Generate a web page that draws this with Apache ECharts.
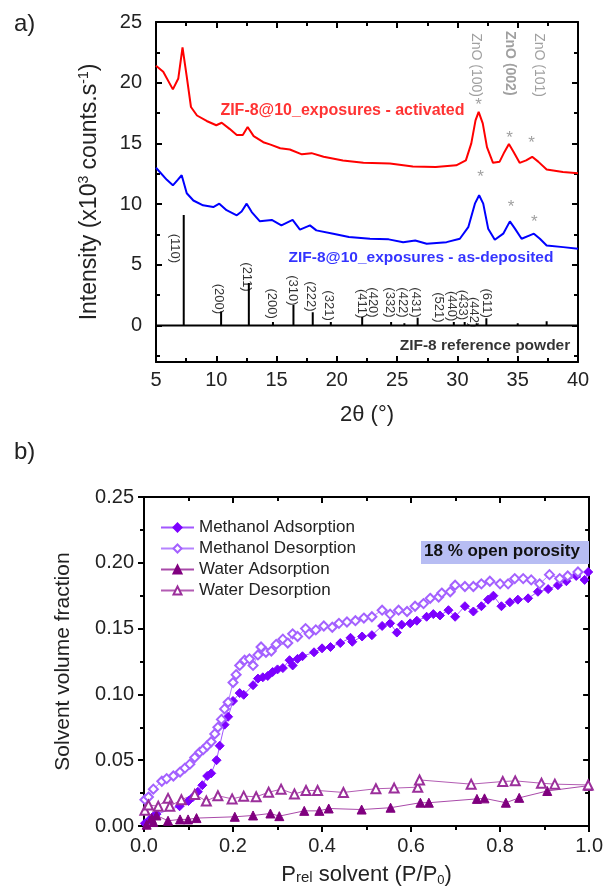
<!DOCTYPE html>
<html>
<head>
<meta charset="utf-8">
<script src="https://cdn.jsdelivr.net/npm/echarts@6/dist/echarts.min.js"></script>
<style>
  html, body { margin: 0; padding: 0; background: #fff; }
  #chart { width: 606px; height: 890px; }
</style>
</head>
<body>
<div id="chart"></div>
<script>
// ---- panel a: XRD patterns (2theta in deg, intensity in 10^3 counts/s)
const activatedXRD = [[5.0,21.4],[5.6,20.9],[6.4,19.45],[6.85,20.35],[7.2,22.9],[7.55,20.5],[7.9,18.0],[8.4,17.3],[9.2,16.85],[10.0,16.5],[10.45,16.7],[11.1,16.2],[11.7,15.7],[12.2,15.7],[12.6,16.35],[13.1,15.6],[13.9,15.1],[14.5,14.9],[15.3,14.6],[16.1,14.5],[17.1,14.1],[17.9,14.2],[18.9,13.9],[20.5,13.6],[22.2,13.4],[24.4,13.35],[26.3,13.1],[28.2,13.05],[29.9,13.2],[30.7,13.6],[31.15,15.0],[31.5,16.9],[31.76,17.6],[32.1,16.65],[32.45,14.7],[32.95,13.4],[33.5,13.5],[33.9,14.3],[34.27,14.95],[34.66,14.3],[35.16,13.4],[35.7,13.6],[36.2,13.9],[36.7,13.5],[37.4,12.85],[38.75,12.65],[40,12.55]];
const asDepositedXRD = [[5.0,13.0],[5.9,12.0],[6.4,11.55],[6.8,12.0],[7.13,12.38],[7.55,10.9],[8.1,10.3],[8.9,9.9],[9.75,9.76],[10.25,10.04],[10.85,9.5],[11.7,9.08],[12.1,9.4],[12.52,10.04],[12.94,9.35],[13.6,8.6],[14.6,8.7],[15.4,8.25],[16.33,8.7],[16.94,7.9],[17.77,8.25],[18.3,7.84],[19.7,7.57],[21.0,7.3],[22.75,7.15],[24.3,7.1],[25.5,6.87],[26.5,7.0],[27.45,6.74],[29.1,6.87],[30.2,7.15],[30.9,8.1],[31.45,10.04],[31.8,10.73],[32.14,10.04],[32.55,7.98],[33.1,7.07],[33.8,7.57],[34.35,8.58],[34.77,7.98],[35.32,7.15],[36.0,7.43],[36.34,7.57],[36.84,7.15],[37.4,6.6],[38.77,6.46],[40,6.33]];

// reference powder sticks
const refTheta     = [7.3, 10.4, 12.7, 14.7, 16.4, 18.0, 19.5, 22.1, 23.0, 24.5, 25.6, 26.7, 28.5, 29.7, 30.6, 31.6, 32.4, 34.2, 35.0, 36.4, 37.4, 39.1];
const refIntensity = [9.1, 1.15, 3.5, 0.3, 1.7, 1.1, 0.3, 0.7, 0.1, 0.3, 0.2, 0.65, 0.1, 0.3, 0.3, 0.2, 0.6, 0.15, 0.2, 0.15, 0.35, 0.15];

// hkl annotations
const hklText = ['(110)','(200)','(211)','(200)','(310)','(222)','(321)','(411)','(420)','(332)','(422)','(431)','(521)','(440)','(433)','(442)','(611)'];
const hklX    = [6.5, 10.2, 12.55, 14.55, 16.3, 17.8, 19.3, 22.05, 23.0, 24.35, 25.45, 26.55, 28.4, 29.5, 30.45, 31.35, 32.4];
const hklY    = [6.35, 2.2, 4.0, 1.8, 2.9, 2.4, 1.65, 1.8, 1.9, 1.9, 1.9, 1.9, 1.5, 1.6, 1.7, 1.1, 1.85];

// ZnO annotations
const znoText = ['ZnO (100)', 'ZnO (002)', 'ZnO (101)'];
const znoX    = [31.56, 34.38, 36.73];
const znoY    = [21.45, 21.6, 21.45];
const starX   = [31.76, 34.33, 36.15, 31.92, 34.44, 36.37];
const starY   = [18.1, 15.45, 15.05, 12.25, 9.75, 8.5];

// ---- panel b: sorption isotherms (P/P0, volume fraction)
const methanolAds = [[0.002,0.002],[0.013,0.005],[0.02,0.007],[0.028,0.009],[0.08,0.015],[0.1,0.019],[0.11,0.022],[0.121,0.026],[0.131,0.031],[0.142,0.038],[0.151,0.04],[0.163,0.05],[0.17,0.061],[0.181,0.077],[0.189,0.083],[0.2,0.095],[0.215,0.101],[0.224,0.0997],[0.245,0.107],[0.256,0.112],[0.267,0.113],[0.278,0.114],[0.289,0.117],[0.3,0.119],[0.312,0.12],[0.327,0.126],[0.334,0.122],[0.345,0.127],[0.356,0.129],[0.382,0.132],[0.4,0.135],[0.419,0.136],[0.441,0.139],[0.464,0.143],[0.468,0.14],[0.49,0.144],[0.512,0.145],[0.535,0.152],[0.553,0.154],[0.568,0.147],[0.579,0.153],[0.598,0.154],[0.613,0.156],[0.635,0.159],[0.65,0.161],[0.665,0.16],[0.684,0.164],[0.699,0.159],[0.721,0.167],[0.74,0.163],[0.758,0.167],[0.773,0.172],[0.785,0.175],[0.803,0.167],[0.822,0.17],[0.84,0.172],[0.863,0.173],[0.885,0.178],[0.908,0.18],[0.93,0.183],[0.949,0.186],[0.971,0.19],[0.99,0.187],[0.998,0.193]];
const methanolDes = [[0.002,0.02],[0.01,0.022],[0.021,0.028],[0.04,0.034],[0.051,0.036],[0.066,0.038],[0.081,0.041],[0.092,0.044],[0.103,0.047],[0.114,0.052],[0.125,0.056],[0.133,0.058],[0.142,0.061],[0.151,0.064],[0.159,0.07],[0.166,0.075],[0.174,0.081],[0.181,0.089],[0.189,0.094],[0.2,0.109],[0.207,0.115],[0.215,0.122],[0.226,0.126],[0.237,0.127],[0.245,0.122],[0.256,0.13],[0.263,0.136],[0.274,0.132],[0.286,0.133],[0.297,0.138],[0.312,0.142],[0.323,0.139],[0.334,0.146],[0.345,0.144],[0.363,0.15],[0.371,0.146],[0.386,0.149],[0.404,0.152],[0.423,0.151],[0.438,0.154],[0.456,0.155],[0.475,0.156],[0.494,0.158],[0.512,0.159],[0.535,0.164],[0.553,0.161],[0.572,0.164],[0.591,0.163],[0.609,0.167],[0.628,0.169],[0.643,0.173],[0.662,0.174],[0.669,0.177],[0.688,0.178],[0.699,0.183],[0.721,0.182],[0.74,0.182],[0.758,0.184],[0.777,0.186],[0.8,0.184],[0.818,0.184],[0.833,0.188],[0.852,0.188],[0.87,0.187],[0.889,0.184],[0.911,0.191],[0.934,0.188],[0.952,0.19],[0.975,0.193]];
const waterAds = [[0.006,0.001],[0.017,0.006],[0.021,0.003],[0.028,0.008],[0.054,0.004],[0.081,0.005],[0.099,0.005],[0.118,0.006],[0.204,0.007],[0.245,0.008],[0.284,0.0095],[0.304,0.0075],[0.36,0.0115],[0.394,0.0115],[0.415,0.0133],[0.489,0.0125],[0.554,0.0139],[0.621,0.0177],[0.64,0.0177],[0.748,0.0206],[0.765,0.021],[0.813,0.0177],[0.843,0.0214],[0.906,0.0266],[0.998,0.0306]];
const waterDes = [[0.002,0.012],[0.01,0.016],[0.032,0.015],[0.054,0.021],[0.058,0.015],[0.084,0.02],[0.114,0.024],[0.14,0.019],[0.166,0.023],[0.198,0.0206],[0.224,0.0227],[0.252,0.0222],[0.28,0.0256],[0.308,0.028],[0.338,0.0243],[0.364,0.027],[0.39,0.027],[0.448,0.0255],[0.521,0.0283],[0.562,0.0288],[0.615,0.0295],[0.619,0.035],[0.735,0.0318],[0.806,0.0338],[0.834,0.0343],[0.893,0.0325],[0.923,0.0318],[0.998,0.0312]];

const FONT = 'Liberation Sans, Arial, sans-serif';

// stick pattern: baseline with one spike per reference reflection
function stickPath() {
  const pts = [[5, 0]];
  refTheta.forEach((t, i) => {
    pts.push([t, 0], [t, refIntensity[i]], [t, 0]);
  });
  pts.push([40, 0]);
  return pts;
}

function textSeries(items) {
  return {
    type: 'scatter',
    xAxisIndex: 0,
    yAxisIndex: 0,
    symbolSize: 1,
    silent: true,
    itemStyle: { color: 'rgba(0,0,0,0)' },
    z: 10,
    data: items
  };
}

const hklItems = hklText.map((t, i) => ({
  value: [hklX[i], hklY[i]],
  label: { show: true, formatter: t, position: 'inside', rotate: -90, align: 'center', verticalAlign: 'middle',
           color: '#000', fontSize: 13, fontFamily: FONT }
}));
const znoItems = znoText.map((t, i) => ({
  value: [znoX[i], znoY[i]],
  label: { show: true, formatter: t, position: 'inside', rotate: -90, align: 'center', verticalAlign: 'middle',
           color: '#888', fontSize: 14, fontFamily: FONT, fontWeight: i === 1 ? 'bold' : 'normal' }
}));
const starItems = starX.map((x, i) => ({
  value: [x, starY[i]],
  label: { show: true, formatter: '*', position: 'inside', color: '#888', fontSize: 17, fontFamily: FONT }
}));
const curveLabels = [
  { value: [10.3, 17.7], label: { show: true, formatter: 'ZIF-8@10_exposures - activated', position: 'right', distance: 0,
      color: '#ff0000', fontSize: 16, fontWeight: 'bold', fontFamily: FONT } },
  { value: [15.95, 5.6], label: { show: true, formatter: 'ZIF-8@10_exposures - as-deposited', position: 'right', distance: 0,
      color: '#0000ff', fontSize: 15.5, fontWeight: 'bold', fontFamily: FONT } },
  { value: [39.4, -1.65], label: { show: true, formatter: 'ZIF-8 reference powder', position: 'left', distance: 0,
      color: '#000', fontSize: 15.5, fontWeight: 'bold', fontFamily: FONT } }
];

const axisLineA = { onZero: false, lineStyle: { color: '#000', width: 2 } };
const labelStyle = { color: '#222', fontSize: 20, fontFamily: FONT };

const chart = echarts.init(document.getElementById('chart'));
chart.setOption({
  animation: false,
  backgroundColor: '#fff',
  textStyle: { fontFamily: FONT },
  graphic: [
    { type: 'text', left: 14, top: 12, style: { text: 'a)', fontSize: 24, fontFamily: FONT, fill: '#222' } },
    { type: 'text', left: 14, top: 440, style: { text: 'b)', fontSize: 24, fontFamily: FONT, fill: '#222' } },
    { type: 'rect', shape: { x: 421, y: 541, width: 168, height: 23 }, style: { fill: '#b7bdf3' }, z: 5 },
    { type: 'text', left: 424, top: 543, z: 6,
      style: { text: '18 % open porosity', fontSize: 17, fontWeight: 'bold', fontFamily: FONT, fill: '#111' } }
  ],
  grid: [
    { left: 156, right: 28, top: 22, height: 340 },
    { left: 144, right: 15, top: 497, height: 329 }
  ],
  legend: {
    left: 155, top: 514, orient: 'vertical', itemWidth: 33, itemHeight: 10, itemGap: 4,
    textStyle: { fontSize: 17, color: '#222', fontFamily: FONT },
    data: ['Methanol Adsorption', 'Methanol Desorption', 'Water Adsorption', 'Water Desorption']
  },
  xAxis: [
    { gridIndex: 0, type: 'value', min: 5, max: 40, interval: 5, position: 'bottom',
      axisLine: axisLineA, axisTick: { inside: true, length: 6, lineStyle: { width: 2 } },
      minorTick: { show: true, splitNumber: 2, length: 4, lineStyle: { color: '#000', width: 2 } },
      splitLine: { show: false }, axisLabel: { ...labelStyle, margin: 8 },
      name: '2θ (°)', nameLocation: 'middle', nameGap: 42,
      nameTextStyle: { fontSize: 22, color: '#222', fontFamily: FONT } },
    { gridIndex: 0, type: 'value', min: 5, max: 40, interval: 5, position: 'top',
      axisLine: axisLineA, axisTick: { inside: true, length: 6, lineStyle: { width: 2 } },
      minorTick: { show: true, splitNumber: 2, length: 4, lineStyle: { color: '#000', width: 2 } },
      splitLine: { show: false }, axisLabel: { show: false } },
    { gridIndex: 1, type: 'value', min: 0, max: 1, interval: 0.2, position: 'bottom',
      axisLine: axisLineA, axisTick: { inside: false, length: 6, lineStyle: { width: 2 } },
      minorTick: { show: true, splitNumber: 2, length: 4, lineStyle: { color: '#000', width: 2 } },
      splitLine: { show: false }, axisLabel: { ...labelStyle, margin: 10, formatter: v => v.toFixed(1) },
      name: '{p|P}{s|rel} solvent (P/P{sub|0})', nameLocation: 'middle', nameGap: 36,
      nameTextStyle: { fontSize: 22, color: '#222', fontFamily: FONT,
        rich: { p: { fontSize: 22, fontFamily: FONT, color: '#222' },
                s: { fontSize: 15, fontFamily: FONT, color: '#222', padding: [6, 0, 0, 0] },
                sub: { fontSize: 13, fontFamily: FONT, color: '#222', padding: [12, 0, 0, 0] } } } },
    { gridIndex: 1, type: 'value', min: 0, max: 1, interval: 0.2, position: 'top',
      axisLine: axisLineA, axisTick: { inside: true, length: 6, lineStyle: { width: 2 } },
      minorTick: { show: true, splitNumber: 2, length: 4, lineStyle: { color: '#000', width: 2 } },
      splitLine: { show: false }, axisLabel: { show: false } }
  ],
  yAxis: [
    { gridIndex: 0, type: 'value', min: -3, max: 25, position: 'left',
      axisLine: axisLineA,
      axisTick: { inside: true, length: 6, lineStyle: { width: 2 }, customValues: [0, 5, 10, 15, 20, 25] },
      axisLabel: { ...labelStyle, margin: 14, customValues: [0, 5, 10, 15, 20, 25] },
      splitLine: { show: false },
      name: 'Intensity (x10{sup|3} counts.s{sup|-1})', nameLocation: 'middle', nameGap: 53,
      nameTextStyle: { fontSize: 23, color: '#222', fontFamily: FONT,
        rich: { sup: { fontSize: 14, fontFamily: FONT, color: '#222', padding: [0, 0, 12, 0] } } } },
    { gridIndex: 0, type: 'value', min: -3, max: 25, position: 'left',
      axisLine: { show: false },
      axisTick: { inside: true, length: 4, lineStyle: { width: 2, color: '#000' }, customValues: [-2.5, 2.5, 7.5, 12.5, 17.5, 22.5] },
      axisLabel: { show: false }, splitLine: { show: false } },
    { gridIndex: 0, type: 'value', min: -3, max: 25, position: 'right',
      axisLine: axisLineA,
      axisTick: { inside: true, length: 6, lineStyle: { width: 2 }, customValues: [0, 5, 10, 15, 20, 25] },
      axisLabel: { show: false }, splitLine: { show: false } },
    { gridIndex: 0, type: 'value', min: -3, max: 25, position: 'right',
      axisLine: { show: false },
      axisTick: { inside: true, length: 4, lineStyle: { width: 2, color: '#000' }, customValues: [-2.5, 2.5, 7.5, 12.5, 17.5, 22.5] },
      axisLabel: { show: false }, splitLine: { show: false } },
    { gridIndex: 1, type: 'value', min: 0, max: 0.25, interval: 0.05, position: 'left',
      axisLine: axisLineA, axisTick: { inside: false, length: 6, lineStyle: { width: 2 } },
      minorTick: { show: true, splitNumber: 2, length: 4, lineStyle: { color: '#000', width: 2 } },
      splitLine: { show: false }, axisLabel: { ...labelStyle, margin: 10, formatter: v => v.toFixed(2) },
      name: 'Solvent volume fraction', nameLocation: 'middle', nameGap: 70,
      nameTextStyle: { fontSize: 21, color: '#222', fontFamily: FONT } },
    { gridIndex: 1, type: 'value', min: 0, max: 0.25, interval: 0.05, position: 'right',
      axisLine: axisLineA, axisTick: { inside: true, length: 6, lineStyle: { width: 2 } },
      minorTick: { show: true, splitNumber: 2, length: 4, lineStyle: { color: '#000', width: 2 } },
      splitLine: { show: false }, axisLabel: { show: false } }
  ],
  series: [
    { name: 'activated', type: 'line', xAxisIndex: 0, yAxisIndex: 0, data: activatedXRD, showSymbol: false,
      lineStyle: { color: '#ff0000', width: 2 }, itemStyle: { color: '#ff0000' } },
    { name: 'as-deposited', type: 'line', xAxisIndex: 0, yAxisIndex: 0, data: asDepositedXRD, showSymbol: false,
      lineStyle: { color: '#0000ff', width: 2 }, itemStyle: { color: '#0000ff' } },
    { name: 'reference', type: 'line', xAxisIndex: 0, yAxisIndex: 0, data: stickPath(), showSymbol: false,
      lineStyle: { color: '#000', width: 2 }, itemStyle: { color: '#000' } },
    textSeries(hklItems),
    textSeries(znoItems),
    textSeries(starItems),
    textSeries(curveLabels),
    { name: 'Methanol Adsorption', type: 'line', xAxisIndex: 2, yAxisIndex: 4, data: methanolAds,
      symbol: 'diamond', symbolSize: 9, lineStyle: { color: '#a257ff', width: 1 },
      itemStyle: { color: '#7d00ff', borderColor: '#7d00ff', borderWidth: 1 } },
    { name: 'Methanol Desorption', type: 'line', xAxisIndex: 2, yAxisIndex: 4, data: methanolDes,
      symbol: 'emptyDiamond', symbolSize: 9, lineStyle: { color: '#b583ff', width: 1 },
      itemStyle: { color: '#a461ff', borderColor: '#a461ff', borderWidth: 1 } },
    { name: 'Water Adsorption', type: 'line', xAxisIndex: 2, yAxisIndex: 4, data: waterAds,
      symbol: 'triangle', symbolSize: 9, lineStyle: { color: '#a94aa9', width: 1 },
      itemStyle: { color: '#80007f', borderColor: '#80007f', borderWidth: 1 } },
    { name: 'Water Desorption', type: 'line', xAxisIndex: 2, yAxisIndex: 4, data: waterDes,
      symbol: 'emptyTriangle', symbolSize: 9, lineStyle: { color: '#b35cb3', width: 1 },
      itemStyle: { color: '#9b2f9b', borderColor: '#9b2f9b', borderWidth: 1 } }
  ]
});
</script>
</body>
</html>
